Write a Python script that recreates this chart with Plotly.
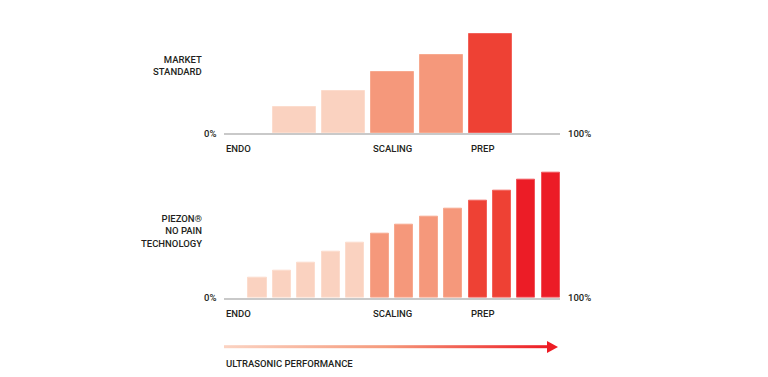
import base64
import plotly.graph_objects as go

# ---------------- data ----------------
top_values = [26, 42, 61, 78, 99]            # market standard bars (slots 1..5)
top_slots = [1, 2, 3, 4, 5]
top_levels = ["light", "light", "mid", "mid", "red"]
top_tick_labels = ["ENDO", "SCALING", "PREP"]
top_tick_slots = [0, 3, 5]

bottom_values = [20, 27, 35, 46, 55, 64, 73, 81, 89, 97, 107, 118, 125]
bottom_slots = list(range(1, 14))
bottom_levels = ["light"] * 5 + ["mid"] * 4 + ["red"] * 2 + ["bright"] * 2
bottom_tick_labels = ["ENDO", "SCALING", "PREP"]
bottom_tick_slots = [0, 6, 10]

palette = {"light": "#FAD2C0", "mid": "#F5987B", "red": "#EE4134", "bright": "#EC1C26"}
edge = {"light": "#FCDCCD", "mid": "#F7A98F", "red": "#F2625A", "bright": "#F0545A"}

W, H = 768, 377
FONT = "Roboto"
TXT = "#231F20"

def px(x):
    return x / W

def py(y):
    return 1 - y / H

fig = go.Figure()

fig.add_trace(go.Bar(
    x=top_slots, y=top_values, width=0.88, offset=0,
    marker=dict(color=[palette[l] for l in top_levels],
                line=dict(color=[edge[l] for l in top_levels], width=1)),
    xaxis="x", yaxis="y", hoverinfo="skip", showlegend=False))

fig.add_trace(go.Bar(
    x=bottom_slots, y=bottom_values, width=0.74, offset=0,
    marker=dict(color=[palette[l] for l in bottom_levels],
                line=dict(color=[edge[l] for l in bottom_levels], width=1)),
    xaxis="x2", yaxis="y2", hoverinfo="skip", showlegend=False))

xdom = [px(224), px(560)]
axis_common = dict(showgrid=False, zeroline=False, showticklabels=False, ticks="",
                   showline=True, linecolor="#C9C9C9", linewidth=1.5, fixedrange=True)
yaxis_common = dict(showgrid=False, zeroline=False, showticklabels=False, ticks="",
                    showline=False, fixedrange=True)

fig.update_layout(
    width=W, height=H,
    margin=dict(l=0, r=0, t=0, b=0),
    paper_bgcolor="white", plot_bgcolor="white",
    bargap=0,
    xaxis=dict(domain=xdom, range=[0, 336 / 49], anchor="y", **axis_common),
    yaxis=dict(domain=[py(133), py(28)], range=[0, 105], anchor="x", **yaxis_common),
    xaxis2=dict(domain=xdom, range=[0, 336 / 24.45], anchor="y2", **axis_common),
    yaxis2=dict(domain=[py(297.7), py(167.7)], range=[0, 130], anchor="x2", **yaxis_common),
    font=dict(family=FONT, size=9.5, color=TXT),
)

ann = []
def text(x, y, s, xanchor="left", xref="paper", yanchor="middle", align="left"):
    ann.append(dict(x=x, y=y, xref=xref, yref="paper", text=s, showarrow=False,
                    xanchor=xanchor, yanchor=yanchor, align=align,
                    font=dict(family=FONT, size=9.5, color=TXT, weight=500)))

# series labels
text(px(204), py(65.5), "MARKET<br>STANDARD", xanchor="right", align="right")
text(px(204), py(231.5), "PIEZON\u00ae<br>NO PAIN<br>TECHNOLOGY", xanchor="right", align="right")

# 0% / 100%
for base in (133, 297.7):
    text(px(218), py(base), "0%", xanchor="right")
    text(px(566), py(base), "100%", xanchor="left")

# category labels
for lab, s in zip(top_tick_labels, top_tick_slots):
    text(s, py(148.5), lab, xref="x")
for lab, s in zip(bottom_tick_labels, bottom_tick_slots):
    text(s, py(313.5), lab, xref="x2")

text(px(224), py(363), "ULTRASONIC PERFORMANCE")

fig.update_layout(annotations=ann)

# gradient arrow as an inline SVG image
svg = ("<svg xmlns='http://www.w3.org/2000/svg' width='336' height='14' viewBox='0 0 336 14'>"
       "<defs><linearGradient id='g' x1='0' x2='1' y1='0' y2='0'>"
       "<stop offset='0' stop-color='#FBD3C2'/>"
       "<stop offset='0.5' stop-color='#F59A7C'/>"
       "<stop offset='1' stop-color='#ED1C24'/></linearGradient></defs>"
       "<rect x='0' y='5.2' width='324' height='3' fill='url(#g)'/>"
       "<polygon points='323,1 334,7 323,13' fill='#ED1C24'/></svg>")
uri = "data:image/svg+xml;base64," + base64.b64encode(svg.encode()).decode()
fig.add_layout_image(dict(source=uri, xref="paper", yref="paper",
                          x=px(224), y=py(340), sizex=336 / W, sizey=14 / H,
                          xanchor="left", yanchor="top", sizing="stretch", layer="above"))

fig.write_html("out.html", config={"displayModeBar": False},
               post_script="document.body.style.margin='0';")
